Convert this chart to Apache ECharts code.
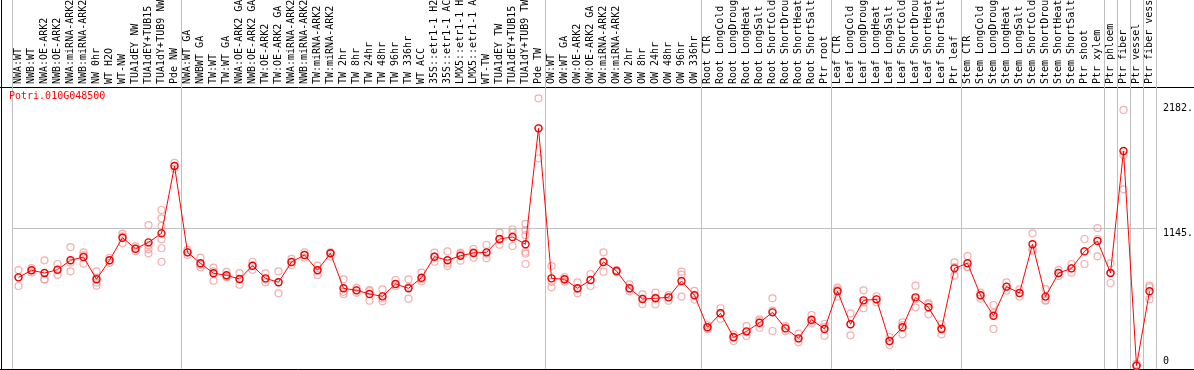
<!DOCTYPE html>
<html>
<head>
<meta charset="utf-8">
<script src="https://cdn.jsdelivr.net/npm/echarts@6/dist/echarts.min.js"></script>
<style>
  html, body { margin: 0; padding: 0; background: #fff; }
  #chart { width: 1194px; height: 370px; }
</style>
</head>
<body>
<div id="chart"></div>
<script>
// Potri.010G048500 expression across samples (mean line + replicate circles)
const geneName = 'Potri.010G048500';

const categories = [
  'NWA:WT', 'NWB:WT', 'NWA:OE-ARK2', 'NWB:OE-ARK2', 'NWA:miRNA-ARK2', 'NWB:miRNA-ARK2',
  'NW 0hr', 'WT H2O', 'WT-NW', 'TUA1dEY NW', 'TUA1dEY+TUB15 NW', 'TUA1dY+TUB9 NW', 'Pde NW',
  'NWA:WT GA', 'NWBWT GA', 'TW:WT', 'TW:WT GA', 'NWA:OE-ARK2 GA', 'NWB:OE-ARK2 GA',
  'TW:OE-ARK2', 'TW:OE-ARK2 GA', 'NWA:miRNA-ARK2 GA', 'NWB:miRNA-ARK2 GA', 'TW:miRNA-ARK2',
  'TW:miRNA-ARK2 GA', 'TW 2hr', 'TW 8hr', 'TW 24hr', 'TW 48hr', 'TW 96hr', 'TW 336hr', 'WT ACC',
  '35S::etr1-1 H2O', '35S::etr1-1 ACC', 'LMX5::etr1-1 H2O', 'LMX5::etr1-1 ACC', 'WT-TW',
  'TUA1dEY TW', 'TUA1dEY+TUB15 TW', 'TUA1dY+TUB9 TW', 'Pde TW',
  'OW:WT', 'OW:WT GA', 'OW:OE-ARK2', 'OW:OE-ARK2 GA', 'OW:miRNA-ARK2', 'OW:miRNA-ARK2 GA',
  'OW 2hr', 'OW 8hr', 'OW 24hr', 'OW 48hr', 'OW 96hr', 'OW 336hr',
  'Root CTR', 'Root LongCold', 'Root LongDrought', 'Root LongHeat', 'Root LongSalt',
  'Root ShortCold', 'Root ShortDrought', 'Root ShortHeat', 'Root ShortSalt', 'Ptr root',
  'Leaf CTR', 'Leaf LongCold', 'Leaf LongDrought', 'Leaf LongHeat', 'Leaf LongSalt',
  'Leaf ShortCold', 'Leaf ShortDrought', 'Leaf ShortHeat', 'Leaf ShortSalt', 'Ptr leaf',
  'Stem CTR', 'Stem LongCold', 'Stem LongDrought', 'Stem LongHeat', 'Stem LongSalt',
  'Stem ShortCold', 'Stem ShortDrought', 'Stem ShortHeat', 'Stem ShortSalt', 'Ptr shoot', 'Ptr xylem',
  'Ptr phloem', 'Ptr fiber', 'Ptr vessel', 'Ptr fiber vessel'
];

// index of the first sample of each group (gray separators)
const groupStarts = [0, 13, 41, 53, 63, 73, 84, 85, 86, 87];

const means = [
  737, 796, 773, 801, 879, 906, 721, 879, 1067, 975, 1028, 1103, 1663,
  945, 854, 771, 754, 723, 834, 729, 696, 865, 923, 796, 937, 646, 629, 599, 579, 682, 646, 734,
  909, 879, 917, 940, 945, 1056, 1073, 1012, 1976,
  729, 721, 646, 715, 865, 790, 646, 557, 563, 571, 707, 588,
  322, 438, 239, 288, 360, 446, 313, 230, 385, 308,
  621, 347, 546, 554, 208, 322, 571, 488, 308, 812,
  854, 588, 418, 660, 607, 1012, 577, 773, 812, 953, 1039,
  773, 1788, 3, 621
];

const replicates = [
  [798, 737, 665], [815, 796, 778], [879, 722, 718], [848, 800, 757], [989, 860, 787],
  [945, 922, 851], [787, 735, 693, 668], [900, 879, 858], [1100, 1078, 1023], [995, 975, 955],
  [1172, 1005, 970, 937], [1297, 1228, 1164, 1053, 979, 867], [1690, 1663, 1640],
  [965, 945, 925], [901, 840, 821], [818, 786, 709], [782, 743, 737], [773, 720, 676],
  [867, 834, 800], [771, 721, 695], [787, 696, 604], [890, 865, 840], [945, 923, 900],
  [834, 796, 757], [945, 937, 910], [721, 617, 599], [650, 629, 610], [632, 622, 543],
  [637, 562, 538], [715, 682, 665], [721, 657, 560], [776, 722, 704], [942, 909, 867],
  [953, 853, 831], [942, 933, 876], [973, 946, 901], [1006, 934, 895], [1109, 1050, 1009],
  [1137, 1110, 998], [1181, 1130, 1089, 950, 935, 848], [2226, 1976, 1727],
  [831, 700, 654], [740, 721, 702], [695, 640, 604], [765, 715, 665], [945, 866, 784],
  [800, 790, 780], [679, 638, 621], [596, 560, 516], [610, 566, 513], [590, 571, 543],
  [784, 760, 577], [624, 588, 552],
  [340, 322, 305], [480, 441, 393], [264, 245, 208], [332, 282, 250], [388, 374, 318],
  [563, 460, 291], [332, 313, 290], [269, 224, 197], [424, 376, 355], [349, 323, 252],
  [651, 635, 577], [438, 348, 255], [629, 529, 480], [580, 554, 530], [241, 208, 175],
  [363, 340, 263], [668, 557, 488], [521, 513, 430], [347, 314, 263], [862, 823, 751],
  [914, 827, 821], [610, 588, 560], [507, 439, 308], [695, 658, 627], [637, 607, 577],
  [1103, 975, 959], [640, 548, 543], [798, 773, 748], [848, 812, 776], [1056, 955, 848],
  [1147, 1056, 912], [854, 775, 690], [2129, 1754, 1469], [17, 3, 0], [668, 655, 554]
];

const yTicks = [0, 1145, 2182];
const yGridValue = 1145;

const FONT = 'DejaVu Sans Mono';
const GRAY = '#c0c0c0';

const repPoints = [];
replicates.forEach((vals, i) => vals.forEach(v => repPoints.push([i, v])));

const isGroupStart = idx => groupStarts.indexOf(idx) !== -1;

const chart = echarts.init(document.getElementById('chart'));

chart.setOption({
  animation: false,
  title: {
    text: geneName,
    left: 9,
    top: 91,
    padding: 0,
    textStyle: { color: '#ff0000', fontSize: 10, fontFamily: FONT, fontWeight: 'normal' }
  },
  grid: { left: 12, right: 38, top: 87, bottom: 1, outerBoundsMode: 'none', containLabel: false },
  xAxis: {
    type: 'category',
    position: 'top',
    data: categories,
    boundaryGap: true,
    axisLine: { show: false, onZero: false },
    axisTick: {
      show: true,
      interval: isGroupStart,
      length: 87,
      lineStyle: { color: GRAY, width: 1 }
    },
    splitLine: {
      show: true,
      interval: isGroupStart,
      lineStyle: { color: GRAY, width: 1 }
    },
    axisLabel: {
      interval: 0,
      rotate: -90,
      align: 'left',
      verticalAlign: 'middle',
      margin: 3,
      color: '#000',
      fontSize: 10,
      fontFamily: FONT,
      hideOverlap: false
    }
  },
  yAxis: {
    type: 'value',
    position: 'right',
    min: -25,
    max: 2320,
    axisLine: { show: false },
    axisTick: { show: false },
    splitLine: { show: false },
    axisLabel: {
      customValues: yTicks,
      margin: 7,
      color: '#000',
      fontSize: 10,
      fontFamily: FONT,
      verticalAlign: 'middle',
      formatter: v => (v === 0 ? '{b|0}' : '{t|' + v + '.}'),
      rich: {
        t: { padding: [10, 0, 0, 0], lineHeight: 12, fontSize: 10, fontFamily: FONT, color: '#000' },
        b: { padding: [0, 0, 10, 0], lineHeight: 12, fontSize: 10, fontFamily: FONT, color: '#000' }
      }
    }
  },
  graphic: [
    { type: 'line', shape: { x1: 1.5, y1: 0, x2: 1.5, y2: 370 }, style: { stroke: '#000', lineWidth: 1 } },
    { type: 'line', shape: { x1: 0, y1: 87.5, x2: 1194, y2: 87.5 }, style: { stroke: '#000', lineWidth: 1 } },
    { type: 'line', shape: { x1: 0, y1: 369.5, x2: 1194, y2: 369.5 }, style: { stroke: '#000', lineWidth: 1 } }
  ],
  series: [
    {
      name: 'replicates',
      type: 'scatter',
      data: repPoints,
      symbol: 'circle',
      symbolSize: 7,
      itemStyle: { color: 'rgba(0,0,0,0)', borderColor: '#f09a9a', borderWidth: 1.2 },
      z: 2
    },
    {
      name: geneName,
      type: 'line',
      data: means,
      symbol: 'circle',
      symbolSize: 7,
      lineStyle: { color: '#ff0000', width: 1 },
      itemStyle: { color: 'rgba(0,0,0,0)', borderColor: '#ee0000', borderWidth: 1.4 },
      z: 3,
      markLine: {
        silent: true,
        symbol: 'none',
        label: { show: false },
        lineStyle: { color: GRAY, type: 'solid', width: 1 },
        data: [{ yAxis: yGridValue }],
        z: 1
      }
    }
  ]
});
</script>
</body>
</html>
